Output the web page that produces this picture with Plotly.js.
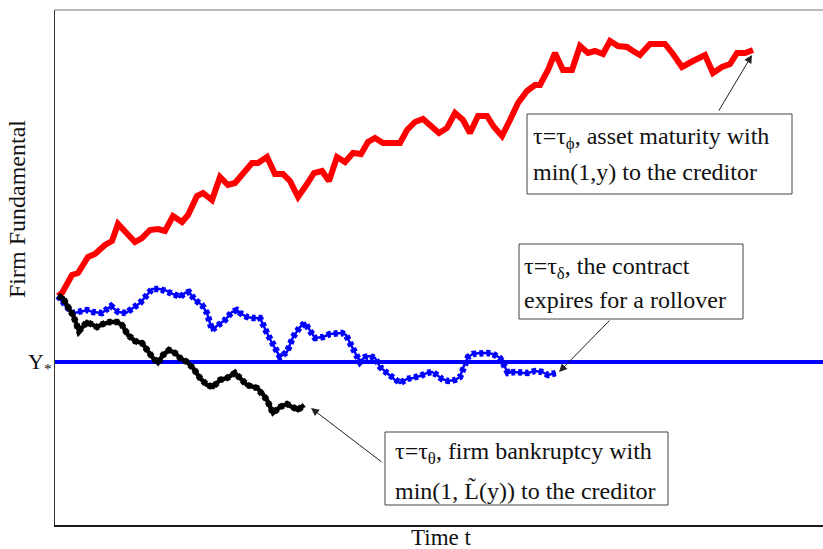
<!DOCTYPE html>
<html>
<head>
<meta charset="utf-8">
<script src="https://cdn.plot.ly/plotly-3.0.1.min.js"></script>
<style>html,body{margin:0;padding:0;background:#fff;}#chart{width:823px;height:549px;}</style>
</head>
<body>
<div id="chart"></div>
<script>
// Time and firm fundamental values (arbitrary units)
const redTime = [3,7,17,23,33,40,50,57,63,80,87,95,103,110,118,127,133,142,148,157,165,173,180,188,197,203,212,220,228,235,243,252,259,267,274,282,290,298,306,313,320,328,337,345,352,360,368,377,384,392,400,408,415,423,432,439,447,455,463,472,480,485,493,500,508,517,525,533,540,548,555,563,572,578,585,595,610,618,627,638,650,658,667,675,682,690,698];
const redValue = [229,232,250,252,268,271,280,284,301,283,287,295,296,294,309,303,310,329,332,325,348,340,342,351,362,362,368,351,351,344,328,341,352,354,344,368,363,372,371,383,387,382,382,382,395,403,406,398,392,397,412,405,392,409,409,398,389,405,422,434,440,440,455,472,455,455,479,472,474,471,484,479,478,474,470,481,481,471,458,464,470,452,458,461,472,472,475];

const blueTime = [3,7,12,18,25,32,38,47,52,56,63,71,78,85,92,97,105,112,118,125,130,134,140,147,152,157,163,170,177,182,185,192,198,205,212,218,225,232,238,245,250,255,260,268,275,287,291,295,300,305,310,315,320,325,332,340,345,352,358,365,372,377,382,387,393,400,405,408,413,418,425,432,438,445,450,453,460,467,473,480,487,493,501];
const blueValue = [229,223,218,212,213,215,213,212,216,219,213,212,217,222,230,236,236,234,231,228,232,233,225,220,212,195,200,205,213,215,212,208,207,207,192,180,168,173,188,198,202,194,187,188,191,192,190,182,173,163,168,169,167,158,152,145,142,146,147,149,152,153,150,146,144,145,148,157,168,171,172,172,171,167,158,152,153,152,152,154,153,150,152];

const blackTime = [3,8,13,18,24,28,32,38,42,48,55,62,67,73,80,87,93,98,103,108,114,120,125,132,138,145,152,158,165,172,180,185,192,202,207,212,218,225,232,237,243,249];
const blackValue = [229,227,218,210,194,198,203,200,198,201,203,203,200,190,184,182,173,167,162,170,175,172,167,163,157,147,140,138,145,147,152,147,140,137,132,125,112,118,121,118,115,120];

const thresholdValue = 163; // Y*
const timeRange = [0, 768];
const valueRange = [0, 515];

const labels = {
  red: ['τ=τ<sub>ϕ</sub>, asset maturity with', 'min(1,y) to the creditor'],
  blue: ['τ=τ<sub>δ</sub>, the contract', 'expires for a rollover'],
  black: ['τ=τ<sub>θ</sub>, firm bankruptcy with', 'min(1, L\u0303(y)) to the creditor'],
  yLabel: 'Firm Fundamental',
  xLabel: 'Time t',
  threshold: 'Y<sub>*</sub>'
};

// layout helpers: pixel -> paper
const L = 55, R = 823, T = 10, B = 525;
const px = x => (x - L) / (R - L);
const py = y => (B - y) / (B - T);
const serif = '"Liberation Serif", "Times New Roman", serif';
const fs = 24;

const traces = [
  {x: timeRange, y: [thresholdValue, thresholdValue], mode: 'lines', line: {color: '#0000ff', width: 4}, hoverinfo: 'skip'},
  {x: redTime, y: redValue, mode: 'lines', line: {color: '#ff0000', width: 6}},
  {x: blueTime, y: blueValue, mode: 'lines', line: {color: '#0000ff', width: 2.5}},
  {x: blueTime, y: blueValue, mode: 'lines', line: {color: '#0000ff', width: 6.5, dash: '4px,3px'}},
  {x: blackTime, y: blackValue, mode: 'lines', line: {color: '#000000', width: 4.5}},
  {x: blackTime, y: blackValue, mode: 'lines', line: {color: '#000000', width: 6.5, dash: '4px,3px'}}
];

function box(x0, y0, x1, y1) {
  return {type: 'rect', xref: 'paper', yref: 'paper', x0: px(x0), x1: px(x1), y0: py(y1), y1: py(y0),
    line: {color: '#444', width: 1}, fillcolor: 'rgba(255,255,255,1)', layer: 'above'};
}
function txt(text, x, y) {
  return {text: text, xref: 'paper', yref: 'paper', x: px(x), y: py(y), xanchor: 'left', yanchor: 'middle',
    showarrow: false, font: {family: serif, size: fs, color: '#111'}};
}
function arrow(hx, hy, tx, ty) {
  return {text: '', xref: 'paper', yref: 'paper', x: px(hx), y: py(hy), ax: tx - hx, ay: ty - hy,
    showarrow: true, arrowhead: 2, arrowsize: 1.6, arrowwidth: 1, arrowcolor: '#222'};
}

const layout = {
  width: 823, height: 549,
  margin: {l: L, r: 823 - R, t: T, b: 549 - B},
  paper_bgcolor: '#fff', plot_bgcolor: '#fff',
  showlegend: false,
  font: {family: serif},
  xaxis: {range: timeRange, showgrid: false, zeroline: false, showticklabels: false, ticks: '',
    showline: true, linecolor: '#1a1a1a', linewidth: 2},
  yaxis: {range: valueRange, showgrid: false, zeroline: false, showticklabels: false, ticks: '',
    showline: true, linecolor: '#333', linewidth: 1.5},
  shapes: [
    {type: 'line', xref: 'paper', yref: 'paper', x0: 0, x1: 1, y0: 1, y1: 1, line: {color: '#777', width: 1}},
    box(527, 114, 792, 194),
    box(519, 244, 743, 319),
    box(385, 432, 668, 505)
  ],
  annotations: [
    txt(labels.red[0], 531, 138),
    txt(labels.red[1], 531, 172),
    txt(labels.blue[0], 522, 268),
    txt(labels.blue[1], 522, 300),
    txt(labels.black[0], 393, 453),
    txt(labels.black[1], 393, 490),
    arrow(752, 55, 718, 112),
    arrow(559, 372, 611, 319),
    arrow(311, 408, 383, 463),
    {text: labels.threshold, xref: 'paper', yref: 'paper', x: px(54), y: py(363), xanchor: 'right', yanchor: 'middle',
      showarrow: false, font: {family: serif, size: 22, color: '#111'}},
    {text: labels.xLabel, xref: 'paper', yref: 'paper', x: px(441), y: py(537), xanchor: 'center', yanchor: 'middle',
      showarrow: false, font: {family: serif, size: 23, color: '#111'}},
    {text: labels.yLabel, xref: 'paper', yref: 'paper', x: px(17), y: py(209), xanchor: 'center', yanchor: 'middle', textangle: -90,
      showarrow: false, font: {family: serif, size: fs, color: '#111'}}
  ]
};

Plotly.newPlot('chart', traces, layout, {staticPlot: true, displayModeBar: false});
</script>
</body>
</html>
